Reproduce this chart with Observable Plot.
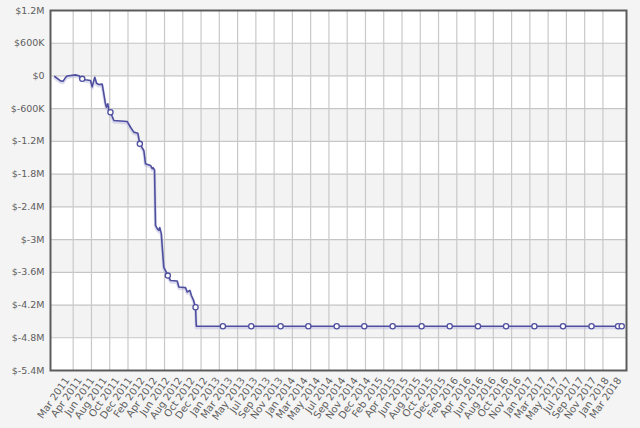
<!DOCTYPE html>
<html>
<head>
<meta charset="utf-8">
<script src="https://cdn.jsdelivr.net/npm/d3@7"></script>
<script src="https://cdn.jsdelivr.net/npm/@observablehq/plot@0.6"></script>
<style>
  html, body { margin: 0; padding: 0; background: #f4f4f4; }
  #chart { width: 640px; height: 428px; }
</style>
</head>
<body>
<div id="chart"></div>
<script>
// x axis tick labels (evenly spaced along the axis)
const xLabels = [
  "Mar 2011","Apr 2011","Jun 2011","Aug 2011","Oct 2011","Dec 2011",
  "Feb 2012","Apr 2012","Jun 2012","Aug 2012","Oct 2012","Dec 2012",
  "Jan 2013","Mar 2013","May 2013","Jul 2013","Sep 2013","Nov 2013",
  "Jan 2014","Mar 2014","May 2014","Jul 2014","Sep 2014","Nov 2014","Dec 2014",
  "Feb 2015","Apr 2015","Jun 2015","Aug 2015","Oct 2015","Dec 2015",
  "Feb 2016","Apr 2016","Jun 2016","Aug 2016","Oct 2016","Nov 2016",
  "Jan 2017","Mar 2017","May 2017","Jul 2017","Sep 2017","Nov 2017",
  "Jan 2018","Mar 2018"
];

// y axis ticks and labels
const yTicks = [1.2e6, 6e5, 0, -6e5, -1.2e6, -1.8e6, -2.4e6, -3e6, -3.6e6, -4.2e6, -4.8e6, -5.4e6];
const yTickLabels = ["$1.2M","$600K","$0","$-600K","$-1.2M","$-1.8M","$-2.4M","$-3M","$-3.6M","$-4.2M","$-4.8M","$-5.4M"];

// series: position along the x axis (in tick-label units) and value ($)
const lineX = [
  -0.99, -0.53, -0.32, -0.14, 0.0, 0.66, 0.93, 1.2, 1.46, 1.86, 1.99, 2.2, 2.34, 2.52, 2.79,
  2.92, 3.05, 3.13, 3.24, 3.32, 3.45, 3.72, 4.79, 5.05, 5.31, 5.63, 5.79, 6.11, 6.24, 6.64,
  6.78, 6.84, 6.96, 7.04, 7.18, 7.31, 7.38, 7.5, 7.58, 7.7, 7.84, 8.02, 8.24, 8.77, 8.9,
  9.43, 9.57, 9.78, 9.89, 10.05, 10.23, 10.29, 44.2
];
const lineY = [
  -10e3, -90e3, -96e3, -30e3, 0, 20e3, 5e3, -53e3, -70e3, -83e3, -200e3, -25e3, -133e3, -157e3, -150e3,
  -327e3, -511e3, -573e3, -511e3, -633e3, -665e3, -816e3, -836e3, -940e3, -1.03e6, -1.05e6, -1.245e6, -1.367e6, -1.61e6, -1.64e6,
  -1.70e6, -1.68e6, -1.72e6, -2.74e6, -2.80e6, -2.83e6, -2.78e6, -2.89e6, -3.14e6, -3.51e6, -3.57e6, -3.66e6, -3.75e6, -3.76e6, -3.87e6,
  -3.88e6, -3.96e6, -3.93e6, -4.02e6, -4.10e6, -4.24e6, -4.59e6, -4.59e6
];

// marked points on the series
const markerX = [1.2, 3.45, 5.79, 8.02, 10.23, 12.41, 14.67, 17.01, 19.22, 21.48, 23.68, 25.94, 28.25, 30.49, 32.74, 34.98, 37.24, 39.52, 41.79, 43.91, 44.2];
const markerY = [-53e3, -665e3, -1.245e6, -3.66e6, -4.24e6, -4.59e6, -4.59e6, -4.59e6, -4.59e6, -4.59e6, -4.59e6, -4.59e6, -4.59e6, -4.59e6, -4.59e6, -4.59e6, -4.59e6, -4.59e6, -4.59e6, -4.59e6, -4.59e6];

const pts = lineX.map((x, i) => ({x, y: lineY[i]}));
const markers = markerX.map((x, i) => ({x, y: markerY[i]}));

const xDomain = [-1.33, 44.58];
// alternating shaded bands between every other pair of y ticks
const bands = [];
for (let i = 1; i < yTicks.length - 1; i += 2) bands.push({y1: yTicks[i], y2: yTicks[i + 1]});
// vertical grid lines (evenly spaced, independent from the labels)
const gridX = d3.range(30).map(k => 0.478 + k * 1.456);

const blue = "#4f4fa0";

const chart = Plot.plot({
  width: 640,
  height: 428,
  marginLeft: 50,
  marginRight: 14,
  marginTop: 10,
  marginBottom: 58,
  style: {background: "transparent", fontFamily: "'DejaVu Sans', Verdana, sans-serif", fontSize: "9.5px", color: "#5e5e5e"},
  x: {domain: xDomain, ticks: d3.range(xLabels.length), tickFormat: i => xLabels[i], tickRotate: -55, tickSize: 0, tickPadding: 8, label: null},
  y: {domain: [-5.4e6, 1.2e6], ticks: yTicks, tickFormat: d => yTickLabels[yTicks.indexOf(d)], tickSize: 0, tickPadding: 6, label: null},
  marks: [
    Plot.frame({fill: "white"}),
    Plot.rect(bands, {x1: xDomain[0], x2: xDomain[1], y1: "y1", y2: "y2", fill: "#f3f3f3"}),
    Plot.ruleY(yTicks.slice(1, -1), {stroke: "#c6c6c6", strokeWidth: 1.2}),
    Plot.ruleX(gridX, {stroke: "#c9c9c9", strokeWidth: 1.2}),
    Plot.line(pts, {x: "x", y: "y", stroke: "#b9b9dd", strokeWidth: 3, strokeOpacity: 0.5, dy: 1.5}),
    Plot.line(pts, {x: "x", y: "y", stroke: blue, strokeWidth: 1.6}),
    Plot.dot(markers, {x: "x", y: "y", r: 2.6, fill: "white", stroke: blue, strokeWidth: 1.3}),
    Plot.frame({stroke: "#5c5c5c", strokeWidth: 2})
  ]
});
chart.querySelectorAll("g[aria-label='x-axis tick label'] text").forEach(t => t.style.fontSize = "10px");
document.getElementById("chart").appendChild(chart);
</script>
</body>
</html>
